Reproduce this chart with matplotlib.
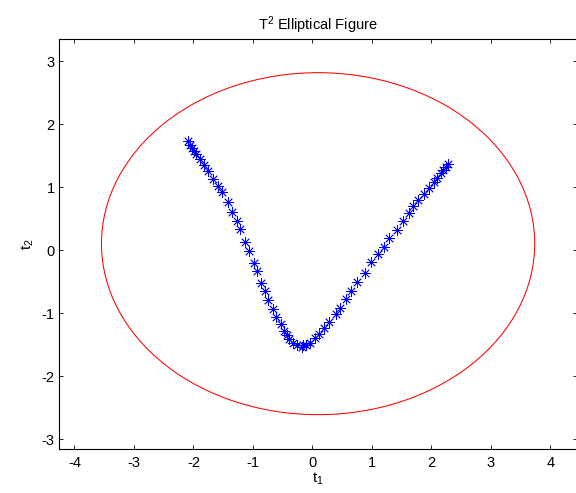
import matplotlib
matplotlib.use("Agg")
import matplotlib.pyplot as plt
from matplotlib.patches import Ellipse

plt.rcParams["font.family"] = ["Liberation Sans", "DejaVu Sans"]
plt.rcParams["mathtext.default"] = "regular"
plt.rcParams["axes.unicode_minus"] = False

# score points (t1, t2)
t1 = [-2.089, -2.049, -2.015, -1.988, -1.948, -1.892, -1.825, -1.746, -1.662, -1.585,
      -1.527, -1.421, -1.359, -1.265, -1.214, -1.140, -1.063, -0.979, -0.929, -0.855,
      -0.794, -0.743, -0.653, -0.614, -0.535, -0.474, -0.434, -0.390, -0.333, -0.266,
      -0.182, -0.155, -0.109, -0.042, 0.042, 0.115, 0.193, 0.283, 0.390, 0.468,
      0.569, 0.648, 0.754, 0.878, 0.989, 1.097, 1.198, 1.292, 1.416, 1.522,
      1.618, 1.696, 1.775, 1.875, 1.960, 2.049, 2.099, 2.156, 2.200, 2.241, 2.279]
t2 = [1.740, 1.671, 1.619, 1.581, 1.524, 1.444, 1.359, 1.259, 1.137, 1.021,
      0.921, 0.767, 0.603, 0.460, 0.333, 0.132, -0.006, -0.197, -0.324, -0.519,
      -0.651, -0.789, -0.932, -1.063, -1.170, -1.276, -1.344, -1.413, -1.467, -1.503,
      -1.530, -1.503, -1.508, -1.467, -1.397, -1.333, -1.238, -1.143, -1.016, -0.911,
      -0.778, -0.646, -0.503, -0.365, -0.190, -0.059, 0.052, 0.190, 0.322, 0.465,
      0.597, 0.703, 0.794, 0.894, 0.994, 1.089, 1.148, 1.222, 1.275, 1.317, 1.365]

# T^2 confidence ellipse
ell_center = (0.097, 0.105)
ell_width = 7.285
ell_height = 5.43

fig = plt.figure(figsize=(5.76, 4.93), dpi=100)
ax = fig.add_axes([0.1024, 0.0899, 0.8993, 0.8304])

ax.add_patch(Ellipse(ell_center, ell_width, ell_height, fill=False,
                     edgecolor="#ff0000", linewidth=0.75))
ax.plot(t1, t2, linestyle="none", marker=(8, 2, 0), markersize=7.5,
        markeredgecolor="#0000ff", markeredgewidth=0.6)

ax.set_xlim(-4.26, 4.45)
ax.set_ylim(-3.15, 3.35)
ax.set_xticks(range(-4, 5))
ax.set_yticks(range(-3, 4))
ax.tick_params(direction="in", top=True, right=True, length=3.2, width=0.6,
               labelsize=10.5)
ax.tick_params(axis="x", pad=5)
ax.tick_params(axis="y", pad=3)
for sp in ax.spines.values():
    sp.set_linewidth(0.8)

ax.set_title("T$^2$ Elliptical Figure", fontsize=10.5, pad=7)
ax.set_xlabel("t$_1$", fontsize=11, labelpad=1)
ax.set_ylabel("t$_2$", fontsize=11, labelpad=4)

fig.savefig("out.png", dpi=100)
